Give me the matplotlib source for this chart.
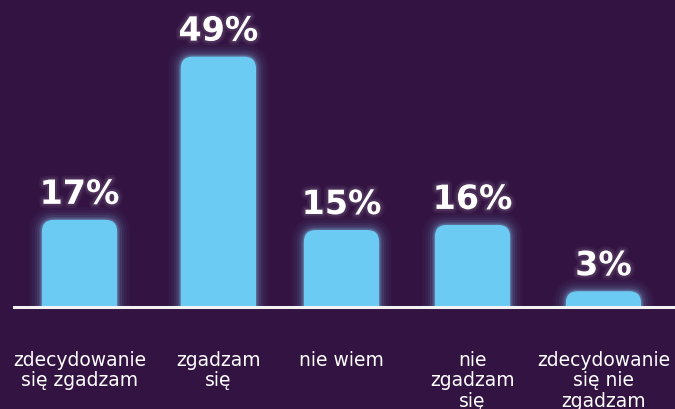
import matplotlib
matplotlib.use("Agg")
import matplotlib.pyplot as plt
from matplotlib.patches import FancyBboxPatch
import matplotlib.patheffects as pe

categories = ["zdecydowanie\nsię zgadzam", "zgadzam\nsię", "nie wiem",
              "nie\nzgadzam\nsię", "zdecydowanie\nsię nie\nzgadzam"]
values = [17, 49, 15, 16, 3]
value_labels = ["17%", "49%", "15%", "16%", "3%"]

# layout: bar slot positions (second slot sits slightly right in the original)
x_pos = [0, 1.06, 2, 3, 4]

BG = "#331342"
BAR = "#6bcbf3"
GLOW = "#8fd8ff"

W, H = 675, 410
fig = plt.figure(figsize=(W / 100, H / 100), dpi=100, facecolor=BG)
ax = fig.add_axes([14 / W, 102.5 / H, 655 / W, 307.5 / H])
ax.set_facecolor(BG)
ymax = 307.5 / 5.1
ax.set_xlim(-0.5, len(values) - 0.5)
ax.set_ylim(0, ymax)
ax.axis("off")

bw = 0.575
rx = 12 / 131.0
ry = 12 / 5.1
for i, v in enumerate(values):
    x = x_pos[i]
    for lw, a in [(18, 0.03), (14, 0.04), (10, 0.06), (7, 0.08), (4, 0.12), (2, 0.2)]:
        g = FancyBboxPatch((x - bw / 2, -5), bw, v + 5,
                           boxstyle=f"round,pad=0,rounding_size={rx}",
                           mutation_aspect=ry / rx,
                           facecolor="none", edgecolor=GLOW, linewidth=lw,
                           alpha=a, clip_on=True, zorder=1)
        ax.add_patch(g)
    p = FancyBboxPatch((x - bw / 2, -5), bw, v + 5,
                       boxstyle=f"round,pad=0,rounding_size={rx}",
                       mutation_aspect=ry / rx,
                       facecolor=BAR, edgecolor="none", clip_on=True, zorder=2)
    ax.add_patch(p)
    ax.annotate(value_labels[i], (x, v), xytext=(0, 11.5), textcoords="offset points",
                ha="center", va="baseline", color="white", fontsize=24,
                fontweight="bold", family="DejaVu Sans", zorder=4,
                path_effects=[pe.Stroke(linewidth=6, foreground="white", alpha=0.05),
                              pe.Stroke(linewidth=3, foreground="white", alpha=0.08),
                              pe.Normal()])
    ax.annotate(categories[i], (x, 0), xytext=(0, -31.5), textcoords="offset points",
                ha="center", va="top", color="white", fontsize=13.5,
                family="DejaVu Sans", linespacing=1.08, annotation_clip=False)

# baseline
fig.add_artist(plt.Line2D([14 / W, 1.0], [102.5 / H, 102.5 / H], color="#f2f2f2",
                          linewidth=2.2, transform=fig.transFigure, zorder=5))

fig.savefig("out.png", dpi=100, facecolor=BG)
